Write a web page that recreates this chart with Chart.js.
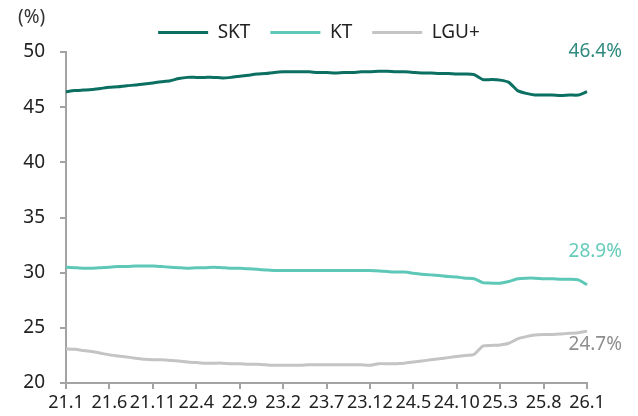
<!DOCTYPE html>
<html>
<head>
<meta charset="utf-8">
<script src="https://cdn.jsdelivr.net/npm/chart.js@4.4.1/dist/chart.umd.min.js"></script>
<style>
  html, body { margin: 0; padding: 0; background: #fff; }
  #wrap { width: 638px; height: 416px; position: relative; }
</style>
</head>
<body>
<div id="wrap"><canvas id="c" width="638" height="416"></canvas></div>
<script>
// months 21.1 .. 26.1
var months = [];
for (var yy = 21; yy <= 26; yy++) {
    for (var mm = 1; mm <= 12; mm++) {
        if (yy === 26 && mm > 1) break;
        months.push(yy + '.' + mm);
    }
}

var skt = [46.4, 46.5, 46.55, 46.6, 46.7, 46.8, 46.85, 46.95, 47.0, 47.1,
           47.2, 47.3, 47.4, 47.6, 47.7, 47.7, 47.7, 47.7, 47.65, 47.7,
           47.8, 47.9, 48.0, 48.05, 48.15, 48.2, 48.2, 48.2, 48.2, 48.15,
           48.15, 48.1, 48.15, 48.15, 48.2, 48.2, 48.25, 48.25, 48.2, 48.2,
           48.15, 48.1, 48.1, 48.05, 48.05, 48.0, 48.0, 47.95, 47.5, 47.5,
           47.45, 47.25, 46.5, 46.25, 46.1, 46.1, 46.1, 46.05, 46.1, 46.1,
           46.4];
var kt = [30.5, 30.45, 30.4, 30.4, 30.45, 30.5, 30.55, 30.55, 30.6, 30.6,
          30.6, 30.55, 30.5, 30.45, 30.4, 30.45, 30.45, 30.5, 30.45, 30.4,
          30.4, 30.35, 30.3, 30.25, 30.2, 30.2, 30.2, 30.2, 30.2, 30.2,
          30.2, 30.2, 30.2, 30.2, 30.2, 30.2, 30.15, 30.1, 30.05, 30.05,
          29.95, 29.85, 29.8, 29.75, 29.65, 29.6, 29.5, 29.45, 29.1, 29.05,
          29.05, 29.2, 29.45, 29.5, 29.5, 29.45, 29.45, 29.4, 29.4, 29.35,
          28.9];
var lgu = [23.1, 23.05, 22.95, 22.85, 22.7, 22.55, 22.45, 22.35, 22.25, 22.15,
           22.1, 22.1, 22.05, 22.0, 21.9, 21.85, 21.8, 21.8, 21.8, 21.75,
           21.75, 21.7, 21.7, 21.65, 21.6, 21.6, 21.6, 21.6, 21.65, 21.65,
           21.65, 21.65, 21.65, 21.65, 21.65, 21.6, 21.75, 21.75, 21.75, 21.8,
           21.9, 22.0, 22.1, 22.2, 22.3, 22.4, 22.5, 22.6, 23.35, 23.4,
           23.45, 23.6, 24.0, 24.2, 24.35, 24.4, 24.4, 24.45, 24.5, 24.55,
           24.7];

var endLabels = ['46.4%', '28.9%', '24.7%'];
var endOffsets = [-40, -33, 13];      // px from last point
var endColors = ['#2f8a7f', '#66cbbb', '#8e8e8e'];

var FONT = "'Noto Sans', 'Open Sans', sans-serif";
var FS = 19;
var axisGray = '#a3a3a3';

var extraText = {
    id: 'extraText',
    afterDatasetsDraw: function (chart) {
        var ctx = chart.ctx;
        ctx.save();
        ctx.font = FS + 'px ' + FONT;
        ctx.textBaseline = 'middle';
        ctx.fillStyle = '#333';
        ctx.textAlign = 'left';
        ctx.fillText('(%)', 18, 18);

        ctx.textAlign = 'right';
        chart.data.datasets.forEach(function (ds, i) {
            var meta = chart.getDatasetMeta(i);
            var pt = meta.data[meta.data.length - 1];
            ctx.fillStyle = endColors[i];
            ctx.fillText(endLabels[i], 622, pt.y + endOffsets[i]);
        });
        ctx.restore();
    }
};

var ctx = document.getElementById('c').getContext('2d');
new Chart(ctx, {
    type: 'line',
    data: {
        labels: months,
        datasets: [
            { label: 'SKT', data: skt, borderColor: '#0b6f62', backgroundColor: '#0b6f62', borderWidth: 3 },
            { label: 'KT', data: kt, borderColor: '#5ec8b8', backgroundColor: '#5ec8b8', borderWidth: 3 },
            { label: 'LGU+', data: lgu, borderColor: '#c4c4c4', backgroundColor: '#c4c4c4', borderWidth: 3 }
        ]
    },
    options: {
        responsive: false,
        animation: false,
        elements: {
            point: { radius: 0 },
            line: { tension: 0.2 }
        },
        layout: { padding: { top: 3, right: 0, left: 0, bottom: 0 } },
        plugins: {
            tooltip: { enabled: false },
            legend: {
                position: 'top',
                labels: {
                    boxWidth: 50,
                    boxHeight: 3,
                    padding: 20,
                    color: '#222',
                    font: { family: FONT, size: FS },
                    generateLabels: function (chart) {
                        var items = Chart.defaults.plugins.legend.labels.generateLabels(chart);
                        items.forEach(function (it) { it.lineWidth = 0; });
                        return items;
                    }
                }
            }
        },
        scales: {
            x: {
                offset: false,
                grid: { drawOnChartArea: false, drawTicks: true, tickLength: 6, color: axisGray, lineWidth: 2 },
                border: { color: axisGray, width: 2 },
                ticks: {
                    autoSkip: false,
                    maxRotation: 0,
                    padding: 3,
                    color: '#222',
                    font: { family: FONT, size: 18 },
                    callback: function (v, i) {
                        return i % 5 === 0 ? months[i] : null;
                    }
                },
                afterFit: function (s) { s.height = 33; }
            },
            y: {
                min: 20,
                max: 50,
                grid: { drawOnChartArea: false, drawTicks: true, tickLength: 6, color: axisGray, lineWidth: 2 },
                border: { color: axisGray, width: 2 },
                ticks: {
                    stepSize: 5,
                    padding: 15,
                    color: '#222',
                    font: { family: FONT, size: FS }
                },
                afterFit: function (s) { s.width = 66; }
            },
            // empty right-hand space for the end labels
            gap: {
                position: 'right',
                min: 20,
                max: 50,
                grid: { display: false },
                border: { display: false },
                ticks: { display: false },
                afterFit: function (s) { s.width = 51; }
            }
        }
    },
    plugins: [extraText]
});
</script>
</body>
</html>
